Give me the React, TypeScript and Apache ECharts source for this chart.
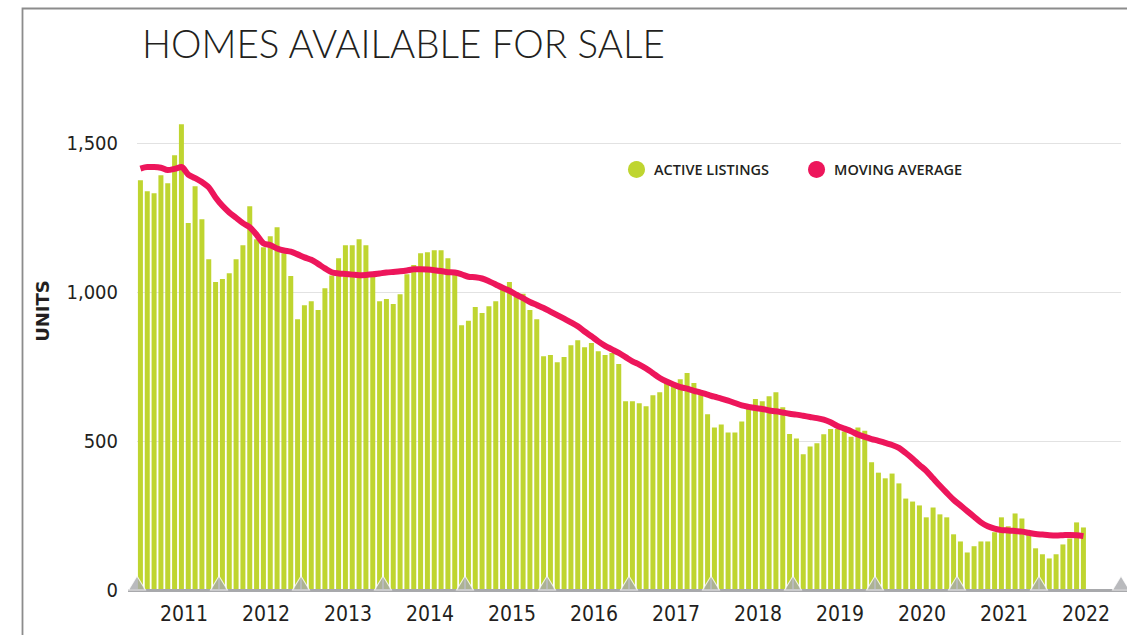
import React, { useEffect, useRef } from "react";
import * as echarts from "echarts";

const years = ["2011", "2012", "2013", "2014", "2015", "2016", "2017", "2018", "2019", "2020", "2021", "2022"];
const monthNames = ["Jan", "Feb", "Mar", "Apr", "May", "Jun", "Jul", "Aug", "Sep", "Oct", "Nov", "Dec"];

const activeListings = [
  // 2011
  1376, 1339, 1332, 1393, 1366, 1460, 1564, 1232, 1356, 1245, 1111, 1034,
  // 2012
  1044, 1064, 1111, 1158, 1289, 1178, 1151, 1188, 1218, 1131, 1054, 909,
  // 2013
  956, 970, 940, 1013, 1056, 1114, 1158, 1158, 1178, 1158, 1065, 970,
  // 2014
  977, 960, 993, 1060, 1091, 1131, 1134, 1141, 1141, 1114, 1060, 889,
  // 2015
  904, 950, 930, 953, 970, 1009, 1034, 1000, 995, 940, 909, 785,
  // 2016
  789, 765, 782, 822, 839, 815, 829, 802, 789, 796, 759, 634,
  // 2017
  634, 627, 617, 654, 664, 695, 685, 708, 729, 695, 658, 590,
  // 2018
  546, 556, 529, 529, 566, 610, 641, 634, 651, 664, 614, 524,
  // 2019
  509, 456, 482, 493, 523, 541, 541, 532, 515, 546, 535, 429,
  // 2020
  394, 375, 391, 358, 307, 297, 284, 244, 277, 254, 244, 187,
  // 2021
  163, 126, 147, 163, 163, 194, 244, 214, 257, 240, 185, 140,
  // 2022
  120, 106, 120, 153, 173, 227, 210,
];

const movingAverage = [
  // 2011
  1415, 1420, 1420, 1418, 1410, 1414, 1420, 1395, 1383, 1370, 1352, 1318,
  // 2012
  1290, 1268, 1250, 1232, 1218, 1193, 1164, 1158, 1147, 1140, 1136, 1127,
  // 2013
  1117, 1109, 1095, 1080, 1067, 1063, 1061, 1059, 1057, 1058, 1060, 1063,
  // 2014
  1066, 1068, 1070, 1073, 1077, 1077, 1076, 1074, 1071, 1067, 1066, 1060,
  // 2015
  1052, 1050, 1046, 1037, 1026, 1015, 1005, 992, 980, 967, 957, 947,
  // 2016
  935, 923, 911, 899, 886, 868, 852, 835, 820, 808, 796, 782,
  // 2017
  768, 757, 744, 728, 712, 700, 690, 681, 676, 669, 663, 656,
  // 2018
  649, 643, 636, 628, 620, 615, 611, 608, 603, 600, 596, 592,
  // 2019
  589, 585, 581, 577, 572, 563, 551, 542, 533, 522, 514, 507,
  // 2020
  501, 494, 487, 477, 460, 441, 420, 400, 375, 350, 326, 303,
  // 2021
  284, 265, 246, 227, 214, 206, 201, 200, 198, 196, 192, 188,
  // 2022
  186, 184, 183, 184, 185, 184, 181,
];

const yTicks = [0, 500, 1000, 1500];

const months = years.flatMap((y) => monthNames.map((m) => `${m} ${y}`));
const yearMarkers = Array.from({ length: years.length + 1 }, (_, i) => [i * 12, 0]);

const GREEN = "#bfd530";
const RED = "#ed165b";
const GREY = "#a8a9ac";
const INK = "#231f20";
const NARROW = "'Liberation Sans Narrow', 'DejaVu Sans Condensed', 'Arial Narrow', sans-serif";

export default function App() {
  const ref = useRef<HTMLDivElement>(null);

  useEffect(() => {
    if (!ref.current) return;
    const chart = echarts.init(ref.current, null, { renderer: "svg" });
    const option: any = {
      animation: false,
      backgroundColor: "#ffffff",
      title: {
        text: "HOMES AVAILABLE FOR SALE",
        left: 137,
        top: 18,
        textStyle: {
          fontFamily: "Lato, 'Open Sans', sans-serif",
          fontWeight: 300,
          fontSize: 38.5,
          color: INK,
        },
      },
      legend: {
        data: ["ACTIVE LISTINGS", "MOVING AVERAGE"],
        left: 623,
        top: 156,
        icon: "circle",
        itemWidth: 17,
        itemHeight: 17,
        itemGap: 39,
        textStyle: {
          fontFamily: "'Open Sans', sans-serif",
          fontWeight: 600,
          fontSize: 14.5,
          color: INK,
          padding: [0, 0, 0, 4],
        },
      },
      grid: { left: 137, right: 6, top: 143.3, bottom: 45, containLabel: false },
      xAxis: [
        {
          type: "category",
          data: months,
          boundaryGap: true,
          axisLine: { show: false },
          axisTick: { show: false },
          axisLabel: { show: false },
          splitLine: { show: false },
        },
        {
          type: "value",
          min: 0,
          max: years.length * 12,
          interval: 6,
          position: "bottom",
          axisLine: { show: false },
          axisTick: { show: false },
          splitLine: { show: false },
          axisLabel: {
            margin: 13,
            fontFamily: NARROW,
            fontSize: 21,
            color: INK,
            padding: [0, 0, 0, 12],
            formatter: (v: number) => (v % 12 === 6 ? years[(v - 6) / 12] : ""),
          },
        },
      ],
      yAxis: {
        type: "value",
        min: yTicks[0],
        max: yTicks[yTicks.length - 1],
        interval: 500,
        axisLine: { show: false },
        axisTick: { show: false },
        axisLabel: {
          margin: 19,
          fontFamily: NARROW,
          fontSize: 20,
          color: INK,
          formatter: (v: number) => v.toLocaleString("en-US"),
        },
        splitLine: { lineStyle: { color: "#e2e2e2", width: 1 } },
      },
      graphic: [
        {
          type: "polyline",
          z: 0,
          shape: { points: [[22.5, 640], [22.5, 8.5], [1130, 8.5]] },
          style: { stroke: "#8c8c8c", lineWidth: 1.8, fill: null },
        },
        {
          type: "rect",
          z: 5,
          shape: { x: 128, y: 589, width: 1000, height: 3 },
          style: { fill: GREY },
        },
        {
          type: "text",
          z: 5,
          x: 42,
          y: 311,
          rotation: Math.PI / 2,
          style: {
            text: "UNITS",
            fontFamily: "'DejaVu Sans', sans-serif",
            fontWeight: "bold",
            fontSize: 18,
            fill: INK,
            align: "center",
            verticalAlign: "middle",
          },
        },
      ],
      series: [
        {
          name: "ACTIVE LISTINGS",
          type: "bar",
          xAxisIndex: 0,
          data: activeListings,
          barWidth: 5,
          clip: false,
          itemStyle: { color: GREEN },
          z: 2,
        },
        {
          name: "MOVING AVERAGE",
          type: "line",
          xAxisIndex: 0,
          data: movingAverage,
          smooth: 0.3,
          showSymbol: false,
          symbol: "circle",
          clip: false,
          lineStyle: { color: RED, width: 6 },
          itemStyle: { color: RED },
          z: 4,
        },
        {
          name: "markers",
          type: "scatter",
          xAxisIndex: 1,
          data: yearMarkers,
          symbol: "triangle",
          symbolSize: [17, 14],
          symbolOffset: [0, -7],
          clip: false,
          silent: true,
          itemStyle: { color: GREY, borderColor: "#ffffff", borderWidth: 1 },
          z: 10,
        },
      ],
    };
    chart.setOption(option);
    return () => chart.dispose();
  }, []);

  return (
    <div
      ref={ref}
      style={{ position: "fixed", left: 0, top: 0, width: 1127, height: 635, background: "#fff" }}
    />
  );
}
